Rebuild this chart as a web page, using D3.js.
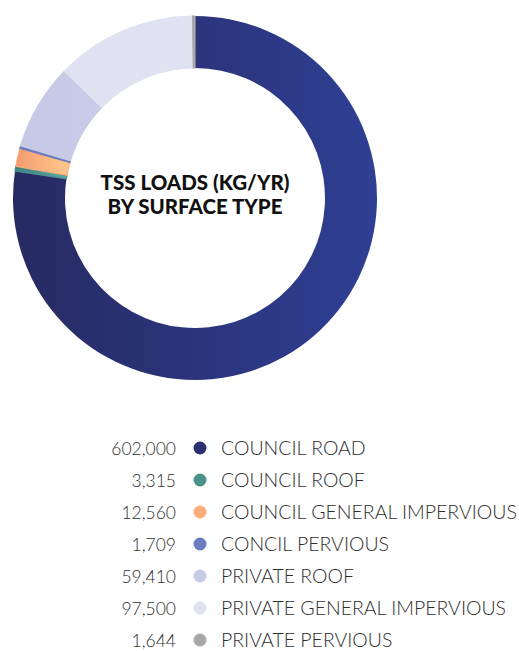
<!DOCTYPE html>
<html><head><meta charset="utf-8">
<script src="https://cdn.jsdelivr.net/npm/d3@7"></script>
<style>
html,body{margin:0;padding:0;background:#fff;}
svg{display:block;}
</style></head>
<body>
<script>
const categories = ["COUNCIL ROAD","COUNCIL ROOF","COUNCIL GENERAL IMPERVIOUS","CONCIL PERVIOUS","PRIVATE ROOF","PRIVATE GENERAL IMPERVIOUS","PRIVATE PERVIOUS"];
const values = [602000,3315,12560,1709,59410,97500,1644];
const valueLabels = ["602,000","3,315","12,560","1,709","59,410","97,500","1,644"];
const colorsLeft = ["#272a62","#3f817b","#f59b6f","#6a79bd","#c6c9e6","#e0e1f1","#a5a5a7"];
const colorsRight = ["#2f3f94","#55aaa4","#ffc98b","#6e7fc4","#c9cce8","#e0e1f1","#a8a8aa"];
const dotColors = ["#2a3170","#4a918c","#fbae7c","#6c7cc0","#c8cbe7","#e0e1f1","#a7a7a9"];
const titleLines = ["TSS LOADS (KG/YR)","BY SURFACE TYPE"];

const W=519,H=651, cx=195, cy=198, rOuter=182, rInner=130;
const svg=d3.select("body").append("svg").attr("width",W).attr("height",H);
const defs=svg.append("defs");
categories.forEach((c,i)=>{
  const g=defs.append("linearGradient").attr("id","g"+i).attr("x1","0").attr("x2","1").attr("y1","0").attr("y2","0");
  g.append("stop").attr("offset","0").attr("stop-color",colorsLeft[i]);
  g.append("stop").attr("offset","1").attr("stop-color",colorsRight[i]);
});
const pie=d3.pie().sort(null).value(d=>d)(values);
const arc=d3.arc().innerRadius(rInner).outerRadius(rOuter);
const gp=svg.append("g").attr("transform",`translate(${cx},${cy})`);
gp.selectAll("path").data(pie).join("path").attr("d",arc).attr("fill",(d,i)=>`url(#g${i})`)
  .attr("stroke",(d,i)=>i===0?"none":dotColors[i]).attr("stroke-width",1.2);
gp.selectAll("text.t").data(titleLines).join("text").attr("class","t")
  .attr("x",0).attr("y",(d,i)=>-8+i*24).attr("text-anchor","middle")
  .attr("font-family","Lato, 'Open Sans', sans-serif").attr("font-weight","900")
  .attr("font-size","20.5px").attr("fill","#111").text(d=>d);

const y=d3.scalePoint().domain(categories).range([448,640]);
const lg=svg.append("g");
const rows=lg.selectAll("g").data(categories).join("g").attr("transform",d=>`translate(0,${y(d)})`);
rows.append("text").attr("x",176).attr("y",7).attr("text-anchor","end")
  .attr("font-family","Lato, sans-serif").attr("font-weight","300").attr("font-size","17.5px").attr("fill","#2e2e2e")
  .text((d,i)=>valueLabels[i]);
rows.append("circle").attr("cx",200).attr("cy",0).attr("r",6.5).attr("fill",(d,i)=>dotColors[i]);
rows.append("text").attr("x",221).attr("y",7)
  .attr("font-family","Lato, sans-serif").attr("font-weight","300").attr("font-size","19.5px").attr("fill","#2e2e2e")
  .text(d=>d);
</script>
</body></html>
